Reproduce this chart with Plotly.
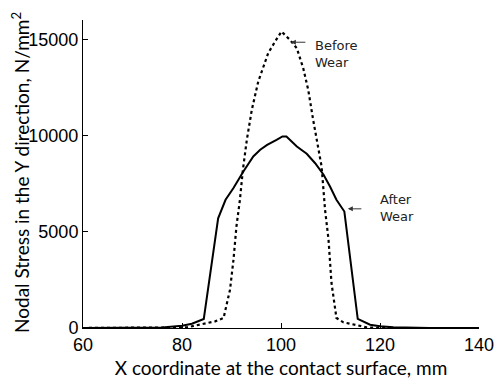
import plotly.graph_objects as go

# After wear (solid)
x_after = [60, 70, 76, 80, 82, 84.4, 87.3, 88.8, 90.4, 92.4, 94.4, 95.8, 97.2, 99.1, 100.3,
           101.1, 103.2, 105.2, 106.9, 108.6, 109.9, 111.2, 112.8, 115.5, 118.0, 120.0, 122.7, 130, 140]
y_after = [0, 0, 30, 120, 225, 470, 5700, 6660, 7270, 8130, 8910, 9260, 9515, 9775, 9950,
           9950, 9430, 9050, 8560, 7960, 7350, 6660, 6050, 470, 170, 90, 35, 0, 0]

# Before wear (dotted)
x_before = [60, 78, 81, 83.6, 86.7, 88.4, 89.7, 90.4, 91.0, 91.7, 92.3, 93.1, 94.1, 95.4, 97.4,
            98.8, 100.1, 101.8, 103.2, 104.5, 105.5, 106.5, 107.5, 108.2, 108.9, 109.6, 110.2,
            111.2, 112.6, 114.6, 117.3, 120, 140]
y_before = [0, 0, 35, 175, 345, 520, 1990, 3550, 5280, 6660, 8220, 9780, 11330, 12800, 14270,
            14880, 15400, 14970, 14530, 13490, 12370, 10810, 9340, 8390, 6140, 4590, 2340,
            520, 295, 175, 35, 0, 0]

x_ticks = [60, 80, 100, 120, 140]
x_tick_labels = ["60", "80", "100", "120", "140"]
y_ticks = [0, 5000, 10000, 15000]
y_tick_labels = ["0", "5000", "10000", "15000"]

fig = go.Figure()
fig.add_trace(go.Scatter(x=x_before, y=y_before, mode="lines",
                         line=dict(color="black", width=2.2, dash="dot"), showlegend=False))
fig.add_trace(go.Scatter(x=x_after, y=y_after, mode="lines",
                         line=dict(color="black", width=2), showlegend=False))

ann_font = dict(family="DejaVu Sans", size=13, color="#222")
fig.add_annotation(x=102.0, y=14845, ax=16, ay=0, text="", showarrow=True,
                   arrowhead=2, arrowsize=1, arrowwidth=1, arrowcolor="#333")
fig.add_annotation(x=106.5, y=14250, text="Before<br>Wear", showarrow=False,
                   xanchor="left", yanchor="middle", align="left", font=ann_font)
fig.add_annotation(x=113.5, y=6190, ax=15, ay=0, text="", showarrow=True,
                   arrowhead=2, arrowsize=1, arrowwidth=1, arrowcolor="#333")
fig.add_annotation(x=119.6, y=6240, text="After<br>Wear", showarrow=False,
                   xanchor="left", yanchor="middle", align="left", font=ann_font)

tick_font = dict(family="Liberation Sans", size=18, color="black")
title_font = dict(family="Lato", size=19, color="black")

# y-axis title placed as rotated text just left of the tick labels
fig.add_annotation(xref="paper", yref="paper", x=0, y=0.5, xshift=-63, yshift=1,
                   text="Nodal Stress in the Y direction, N/mm<sup>2</sup>",
                   textangle=-90, showarrow=False, xanchor="center", yanchor="middle",
                   font=title_font)

fig.update_layout(
    width=498, height=388,
    margin=dict(l=83, r=19, t=20, b=60),
    paper_bgcolor="white", plot_bgcolor="white",
    hovermode=False,
    xaxis=dict(range=[60, 140], tickvals=x_ticks, ticktext=x_tick_labels,
               ticks="inside", ticklen=5, automargin=False, ticklabeloverflow="allow",
               tickcolor="black", showline=True, linecolor="black", linewidth=1,
               showgrid=False, zeroline=False, tickfont=tick_font,
               title=dict(text="X coordinate at the contact surface, mm", standoff=8,
                          font=title_font)),
    yaxis=dict(range=[0, 16000], tickvals=y_ticks, ticktext=y_tick_labels,
               ticks="inside", ticklen=5, automargin=False, ticklabeloverflow="allow",
               tickcolor="black", showline=True, linecolor="black", linewidth=1,
               showgrid=False, zeroline=False, tickfont=tick_font),
)

# remove the default page margin so the figure fills the window exactly
fig.write_html("out.html", config={"displayModeBar": False},
               post_script="document.body.style.margin='0';document.body.style.overflow='hidden';")
